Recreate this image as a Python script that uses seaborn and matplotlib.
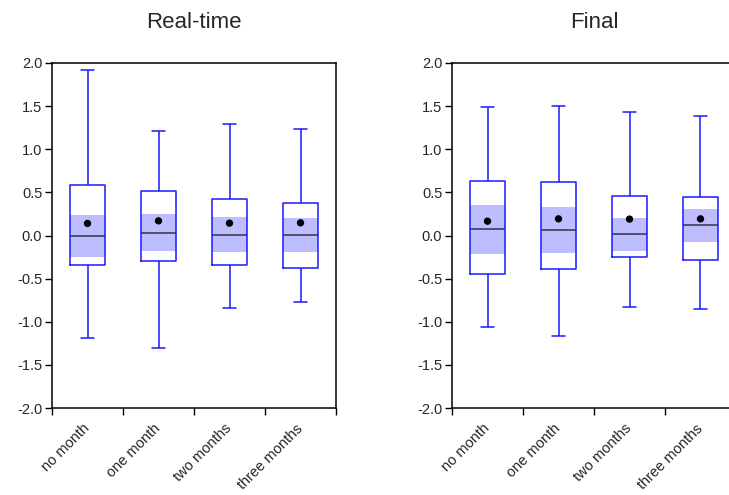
import matplotlib
matplotlib.use("Agg")
import matplotlib.pyplot as plt
import matplotlib.transforms as mtransforms
import seaborn as sns
import pandas as pd

# Category labels
horizons = ["no month", "one month", "two months", "three months"]

# Real-time: whisker ends, quartiles, medians, median CI band, means
rt_low = [-1.19, -1.31, -0.84, -0.77]
rt_q1 = [-0.34, -0.30, -0.34, -0.38]
rt_median = [-0.004, 0.03, 0.008, 0.008]
rt_q3 = [0.59, 0.52, 0.425, 0.375]
rt_high = [1.915, 1.21, 1.295, 1.23]
rt_ci_lo = [-0.25, -0.185, -0.197, -0.19]
rt_ci_hi = [0.24, 0.25, 0.21, 0.205]
rt_mean = [0.14, 0.17, 0.143, 0.147]

# Final
fi_low = [-1.056, -1.164, -0.824, -0.847]
fi_q1 = [-0.452, -0.394, -0.251, -0.286]
fi_median = [0.073, 0.062, 0.015, 0.12]
fi_q3 = [0.63, 0.615, 0.456, 0.445]
fi_high = [1.489, 1.504, 1.43, 1.384]
fi_ci_lo = [-0.209, -0.205, -0.178, -0.077]
fi_ci_hi = [0.356, 0.325, 0.20, 0.31]
fi_mean = [0.166, 0.193, 0.19, 0.193]

BLUE = "#1a1aff"
BAND = "#bdbdff"


def summary_frame(low, q1, med, q3, high):
    # five-number summary per horizon -> seaborn recovers quartiles/whiskers
    rows = []
    for h, vals in zip(horizons, zip(low, q1, med, q3, high)):
        for v in vals:
            rows.append({"horizon": h, "value": v})
    return pd.DataFrame(rows)


def draw_panel(fig, ax, title, low, q1, med, q3, high, ci_lo, ci_hi, mean):
    df = summary_frame(low, q1, med, q3, high)

    # shaded band around the median
    ax.bar(range(len(horizons)), [h - l for l, h in zip(ci_lo, ci_hi)],
           bottom=ci_lo, width=0.5, color=BAND, edgecolor="none", zorder=1)

    sns.boxplot(data=df, x="horizon", y="value", order=horizons, ax=ax,
                whis=(0, 100), width=0.5, fill=False, color=BLUE,
                linewidth=1.1,
                medianprops={"color": "#333344", "linewidth": 1.1},
                capprops={"color": BLUE}, whiskerprops={"color": BLUE},
                boxprops={"zorder": 3})
    ax.set_xlim(-0.5, 3.5)
    for line in ax.lines:
        xd = line.get_xdata()
        if len(xd) == 2 and abs(xd[1] - xd[0]) > 0 and line.get_color() == BLUE:
            # shorten caps to a third of box width
            c = (xd[0] + xd[1]) / 2
            if abs(xd[1] - xd[0]) < 0.3:
                line.set_xdata([c - 0.085, c + 0.085])

    means = pd.DataFrame({"horizon": horizons, "mean": mean})
    sns.scatterplot(data=means, x="horizon", y="mean", ax=ax, color="black",
                    s=28, edgecolor="none", zorder=5)

    ax.set_ylim(-2.0, 2.0)
    ax.set_yticks([-2.0, -1.5, -1.0, -0.5, 0.0, 0.5, 1.0, 1.5, 2.0])
    ax.set_yticklabels([f"{v:.1f}" for v in ax.get_yticks()])
    ax.set_xticks(range(len(horizons)))
    ax.set_xticklabels(horizons, rotation=45, ha="right",
                       rotation_mode="anchor")
    ax.set_xticks([-0.5, 0.5, 1.5, 2.5, 3.5], minor=True)
    ax.tick_params(axis="x", which="major", bottom=True, length=0, pad=6,
                   labelsize=10.5)
    ax.tick_params(axis="x", which="minor", bottom=True, length=5, width=1,
                   direction="out", color="black")
    ax.tick_params(axis="y", left=True, length=5, width=1, direction="out",
                   labelsize=10.5, pad=2, color="black")
    shift = mtransforms.ScaledTranslation(-0.05, -0.05, fig.dpi_scale_trans)
    for lab in ax.get_xticklabels():
        lab.set_transform(lab.get_transform() + shift)
    ax.set_xlabel("")
    ax.set_ylabel("")
    ax.set_title(title, fontsize=16, pad=25)
    for sp in ax.spines.values():
        sp.set_color("black")
        sp.set_linewidth(1.1)
        sp.set_visible(True)


sns.set_style("white")
plt.rcParams["font.family"] = ["Liberation Sans", "DejaVu Sans"]
plt.rcParams["axes.unicode_minus"] = False

fig = plt.figure(figsize=(7.29, 4.95), dpi=100)
ax1 = fig.add_axes([52 / 729, 87 / 495, 284 / 729, 345 / 495])
ax2 = fig.add_axes([452 / 729, 87 / 495, 284 / 729, 345 / 495])

draw_panel(fig, ax1, "Real-time", rt_low, rt_q1, rt_median, rt_q3, rt_high,
           rt_ci_lo, rt_ci_hi, rt_mean)
draw_panel(fig, ax2, "Final", fi_low, fi_q1, fi_median, fi_q3, fi_high,
           fi_ci_lo, fi_ci_hi, fi_mean)

fig.savefig("out.png", dpi=100)
